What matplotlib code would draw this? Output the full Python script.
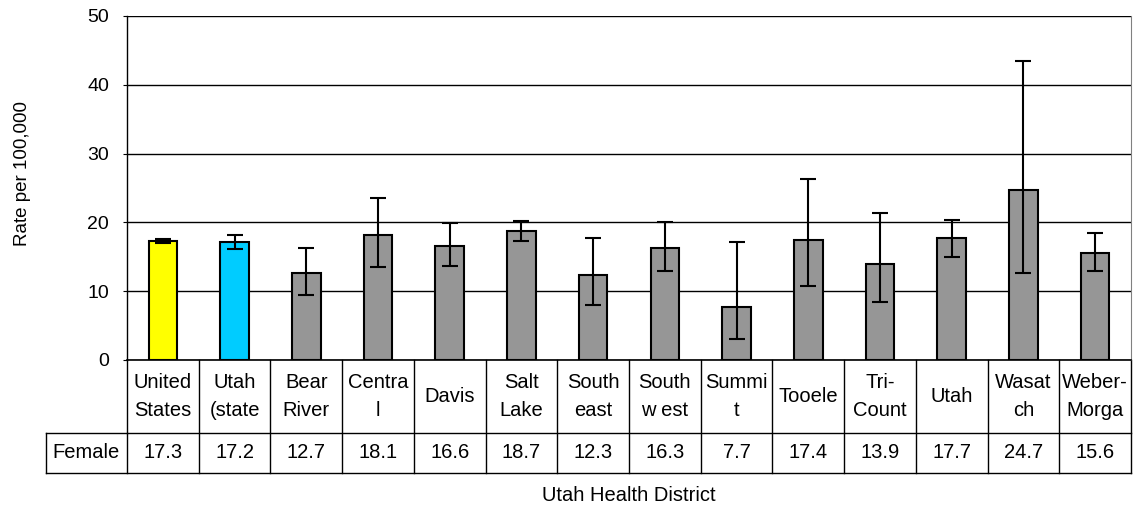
import numpy as np
import matplotlib.pyplot as plt
from matplotlib.transforms import blended_transform_factory

plt.rcParams['font.family'] = ['Liberation Sans', 'DejaVu Sans']

# Data
districts = ["United\nStates", "Utah\n(state", "Bear\nRiver", "Centra\nl", "Davis",
             "Salt\nLake", "South\neast", "South\nw est", "Summi\nt", "Tooele",
             "Tri-\nCount", "Utah", "Wasat\nch", "Weber-\nMorga"]
female = [17.3, 17.2, 12.7, 18.1, 16.6, 18.7, 12.3, 16.3, 7.7, 17.4, 13.9, 17.7, 24.7, 15.6]
ci_low = [17.0, 16.1, 9.4, 13.5, 13.7, 17.3, 8.0, 12.9, 3.0, 10.8, 8.5, 14.9, 12.6, 12.9]
ci_high = [17.6, 18.2, 16.3, 23.6, 19.9, 20.2, 17.8, 20.1, 17.2, 26.3, 21.3, 20.4, 43.4, 18.5]
bar_colors = ["#FFFF00", "#00CCFF"] + ["#969696"] * 12

n = len(districts)
x = np.arange(n)
female = np.array(female)
yerr = [female - np.array(ci_low), np.array(ci_high) - female]

fig = plt.figure(figsize=(11.4, 5.12), dpi=100)
ax = fig.add_axes([127 / 1140, 1 - 360 / 512, 1004 / 1140, 344 / 512])

ax.bar(x, female, width=0.4, color=bar_colors, edgecolor='black', linewidth=1.5, zorder=3)
ax.errorbar(x, female, yerr=yerr, fmt='none', ecolor='black', elinewidth=1.5,
            capsize=6, capthick=1.5, zorder=4)

ax.set_xlim(-0.5, n - 0.5)
ax.set_ylim(0, 50)
ax.set_yticks(range(0, 51, 10))
ax.tick_params(axis='y', labelsize=14, length=3, pad=10, direction='out')
ax.set_xticks([])
ax.yaxis.grid(True, color='black', linewidth=1)
ax.set_axisbelow(True)
ax.spines['top'].set_visible(False)
ax.spines['right'].set_color('#808080')
ax.spines['left'].set_linewidth(1)
ax.spines['bottom'].set_linewidth(1.2)
fig.text(23 / 1140, 1 - 174 / 512, "Rate per 100,000", rotation=90,
         ha='center', va='center', fontsize=13.5)

# Table below the axis
tr = blended_transform_factory(ax.transData, ax.transAxes)
row1 = -73 / 344
row2 = -113 / 344
left_box = (46 - 127) / 1004
lkw = dict(color='black', linewidth=1, clip_on=False)

for b in np.arange(-0.5, n, 1.0):
    ax.plot([b, b], [0, row2], transform=tr, **lkw)
ax.plot([-0.5, n - 0.5], [row1, row1], transform=tr, **lkw)
ax.plot([left_box, 1], [row2, row2], transform=ax.transAxes, **lkw)
ax.plot([left_box, 0], [row1, row1], transform=ax.transAxes, **lkw)
ax.plot([left_box, left_box], [row1, row2], transform=ax.transAxes, **lkw)

for i in range(n):
    ax.text(x[i], row1 / 2, districts[i], transform=tr, ha='center', va='center',
            fontsize=14.5, linespacing=1.55, clip_on=False)
    ax.text(x[i], (row1 + row2) / 2, f"{female[i]:.1f}", transform=tr,
            ha='center', va='center', fontsize=14.5, clip_on=False)
ax.text(left_box / 2, (row1 + row2) / 2, "Female", transform=ax.transAxes,
        ha='center', va='center', fontsize=14.5, clip_on=False)

ax.text(0.5, -0.393, "Utah Health District", transform=ax.transAxes,
        ha='center', va='center', fontsize=14.5, clip_on=False)

fig.savefig("out.png", dpi=100)
